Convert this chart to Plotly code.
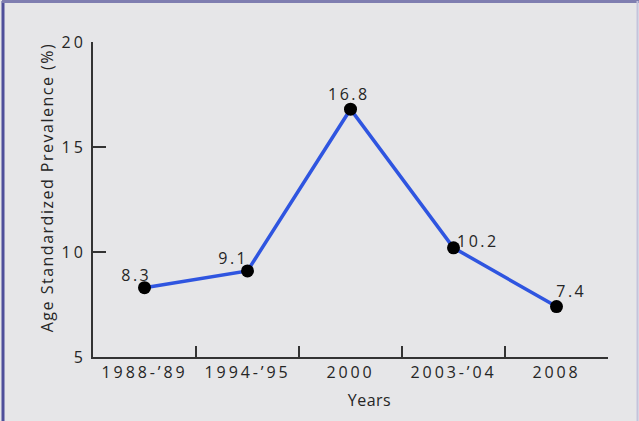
import plotly.graph_objects as go

years = ["1988-\u201989", "1994-\u201995", "2000", "2003-\u201904", "2008"]
prevalence = [8.3, 9.1, 16.8, 10.2, 7.4]
value_labels = ["8.3", "9.1", "16.8", "10.2", "7.4"]
y_ticks = [5, 10, 15, 20]
x_title = "Years"
y_title = "Age Standardized Prevalence (%)"

# label offsets (pixels) relative to each marker - styling only
label_dx = [-8, -14, -2, 24, 15]
label_dy = [13, 13, 15, 7, 16]

W, H = 639, 421
L, R, T, B = 93, 31, 42, 64
pw, ph = W - L - R, H - T - B

def px_x(px):
    return (px - L) / pw

def px_y(py):
    return (H - B - py) / ph

FONT = "Open Sans"
TXT = "#252525"
BG = "#e6e6e8"

fig = go.Figure()
fig.add_trace(go.Scatter(
    x=list(range(len(years))), y=prevalence, mode="lines+markers",
    line=dict(color="#2f55e0", width=3.5),
    marker=dict(color="#000000", size=13),
    cliponaxis=False, showlegend=False, hoverinfo="skip",
))

for i, (yv, lab, dx, dy) in enumerate(zip(prevalence, value_labels, label_dx, label_dy)):
    fig.add_annotation(x=i, y=yv, text=lab, showarrow=False,
                       xanchor="center", yanchor="middle", xshift=dx, yshift=dy,
                       font=dict(family=FONT, size=16, color=TXT))

# axis titles as annotations (indices 5 and 6)
fig.add_annotation(xref="paper", yref="paper", x=px_x(47), y=px_y(188), text=y_title,
                   textangle=-90, showarrow=False, xanchor="center", yanchor="middle",
                   font=dict(family=FONT, size=16, color=TXT))
fig.add_annotation(xref="paper", yref="paper", x=px_x(369), y=px_y(400), text=x_title,
                   showarrow=False, xanchor="center", yanchor="middle",
                   font=dict(family=FONT, size=16, color=TXT))

axis_common = dict(showline=True, linecolor="#333333", linewidth=2,
                   ticks="inside", tickcolor="#333333", tickwidth=2,
                   showgrid=False, zeroline=False,
                   tickfont=dict(family=FONT, size=16, color=TXT))

fig.update_xaxes(**axis_common, range=[-0.5, len(years) - 0.5],
                 tickvals=[i - 0.5 for i in range(len(years) + 1)], ticktext=[""] * (len(years) + 1),
                 ticklen=11)
# category labels drawn on a second, tickless x axis overlay
fig.update_layout(xaxis2=dict(overlaying="x", side="bottom", range=[-0.5, len(years) - 0.5],
                              tickvals=list(range(len(years))), ticktext=years,
                              showline=False, showgrid=False, zeroline=False, ticks="",
                              ticklabelstandoff=4,
                              tickfont=dict(family=FONT, size=16, color=TXT), anchor="y"))
fig.add_trace(go.Scatter(x=[None], y=[None], xaxis="x2", showlegend=False, hoverinfo="skip"))

fig.update_yaxes(**axis_common, range=[5, 20], tickvals=y_ticks, ticklen=13,
                 ticklabelstandoff=2)

shapes = [
    dict(type="line", xref="paper", yref="paper", x0=px_x(3), x1=px_x(3), y0=px_y(1), y1=px_y(421),
         line=dict(color="#4f4f9a", width=3)),
    dict(type="line", xref="paper", yref="paper", x0=px_x(2), x1=px_x(639), y0=px_y(1.5), y1=px_y(1.5),
         line=dict(color="#7f7eb0", width=3)),
    dict(type="line", xref="paper", yref="paper", x0=px_x(637.5), x1=px_x(637.5), y0=px_y(1), y1=px_y(421),
         line=dict(color="#c4c3dc", width=2)),
]

fig.update_layout(width=W, height=H, margin=dict(l=L, r=R, t=T, b=B),
                  paper_bgcolor=BG, plot_bgcolor=BG, shapes=shapes,
                  font=dict(family=FONT, color=TXT))

post = """
var gd = document.getElementById('{plot_id}');
function sp(sel, v) { gd.querySelectorAll(sel).forEach(function(t){ t.style.letterSpacing = v; }); }
sp('.xtick text', '2.9px');
sp('.x2tick text', '2.9px');
sp('.ytick text', '3px');
sp('.annotation-text', '2.5px');
sp('.annotation[data-index="5"] .annotation-text', '1.5px');
sp('.annotation[data-index="6"] .annotation-text', '0.5px');
"""

fig.write_html("out.html", post_script=post)
